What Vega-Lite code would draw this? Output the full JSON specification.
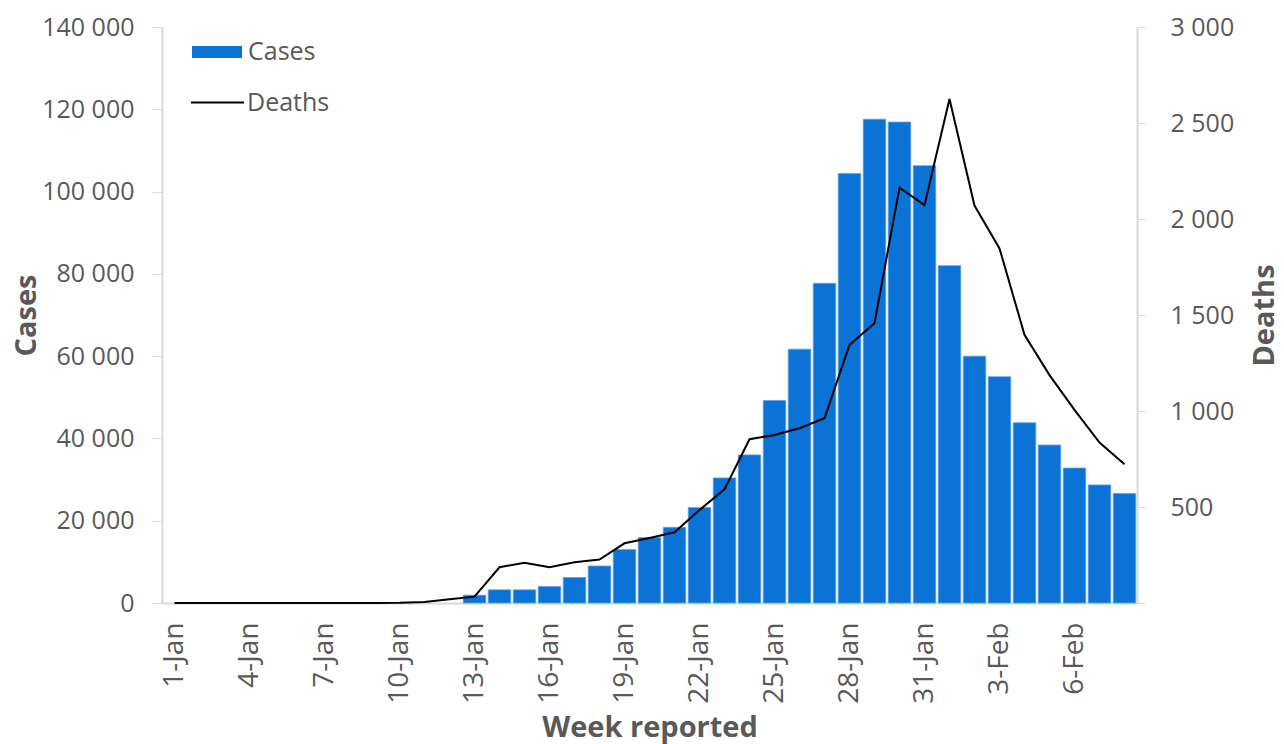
{
  "$schema": "https://vega.github.io/schema/vega-lite/v6.json",
  "autosize": {"type": "none"},
  "padding": {"left": 162, "top": 27, "right": 147, "bottom": 141},
  "width": 975,
  "height": 576,
  "background": "white",
  "config": {
    "view": {"stroke": null},
    "font": "Open Sans",
    "axis": {"grid": false, "labelColor": "#595959", "titleColor": "#595959", "domainColor": "#d9d9d9", "tickColor": "#d9d9d9", "domainWidth": 2, "labelFont": "Open Sans", "titleFont": "Open Sans"},
    "legend": {"labelFont": "Open Sans"}
  },
  "data": {
    "values": [
      {"day": "1-Jan", "cases": null, "deaths": 0},
      {"day": "2-Jan", "cases": null, "deaths": 0},
      {"day": "3-Jan", "cases": null, "deaths": 0},
      {"day": "4-Jan", "cases": null, "deaths": 0},
      {"day": "5-Jan", "cases": null, "deaths": 0},
      {"day": "6-Jan", "cases": null, "deaths": 0},
      {"day": "7-Jan", "cases": null, "deaths": 0},
      {"day": "8-Jan", "cases": null, "deaths": 0},
      {"day": "9-Jan", "cases": null, "deaths": 0},
      {"day": "10-Jan", "cases": null, "deaths": 1},
      {"day": "11-Jan", "cases": null, "deaths": 5},
      {"day": "12-Jan", "cases": null, "deaths": 19},
      {"day": "13-Jan", "cases": 1900, "deaths": 33},
      {"day": "14-Jan", "cases": 3200, "deaths": 186},
      {"day": "15-Jan", "cases": 3200, "deaths": 210},
      {"day": "16-Jan", "cases": 4000, "deaths": 186},
      {"day": "17-Jan", "cases": 6200, "deaths": 212},
      {"day": "18-Jan", "cases": 9000, "deaths": 226},
      {"day": "19-Jan", "cases": 13000, "deaths": 311},
      {"day": "20-Jan", "cases": 15900, "deaths": 339},
      {"day": "21-Jan", "cases": 18400, "deaths": 368},
      {"day": "22-Jan", "cases": 23200, "deaths": 484},
      {"day": "23-Jan", "cases": 30400, "deaths": 592},
      {"day": "24-Jan", "cases": 36000, "deaths": 853},
      {"day": "25-Jan", "cases": 49200, "deaths": 875},
      {"day": "26-Jan", "cases": 61700, "deaths": 910},
      {"day": "27-Jan", "cases": 77700, "deaths": 962},
      {"day": "28-Jan", "cases": 104400, "deaths": 1344},
      {"day": "29-Jan", "cases": 117600, "deaths": 1457},
      {"day": "30-Jan", "cases": 116900, "deaths": 2163},
      {"day": "31-Jan", "cases": 106300, "deaths": 2073},
      {"day": "1-Feb", "cases": 82000, "deaths": 2625},
      {"day": "2-Feb", "cases": 60000, "deaths": 2070},
      {"day": "3-Feb", "cases": 55000, "deaths": 1847},
      {"day": "4-Feb", "cases": 43800, "deaths": 1397},
      {"day": "5-Feb", "cases": 38400, "deaths": 1187},
      {"day": "6-Feb", "cases": 32800, "deaths": 1006},
      {"day": "7-Feb", "cases": 28700, "deaths": 836},
      {"day": "8-Feb", "cases": 26600, "deaths": 723}
    ]
  },
  "encoding": {
    "x": {
      "field": "day", "type": "nominal",
      "sort": ["1-Jan","2-Jan","3-Jan","4-Jan","5-Jan","6-Jan","7-Jan","8-Jan","9-Jan","10-Jan","11-Jan","12-Jan","13-Jan","14-Jan","15-Jan","16-Jan","17-Jan","18-Jan","19-Jan","20-Jan","21-Jan","22-Jan","23-Jan","24-Jan","25-Jan","26-Jan","27-Jan","28-Jan","29-Jan","30-Jan","31-Jan","1-Feb","2-Feb","3-Feb","4-Feb","5-Feb","6-Feb","7-Feb","8-Feb"],
      "scale": {"paddingInner": 0.1, "paddingOuter": 0.05,
        "domain": ["1-Jan","2-Jan","3-Jan","4-Jan","5-Jan","6-Jan","7-Jan","8-Jan","9-Jan","10-Jan","11-Jan","12-Jan","13-Jan","14-Jan","15-Jan","16-Jan","17-Jan","18-Jan","19-Jan","20-Jan","21-Jan","22-Jan","23-Jan","24-Jan","25-Jan","26-Jan","27-Jan","28-Jan","29-Jan","30-Jan","31-Jan","1-Feb","2-Feb","3-Feb","4-Feb","5-Feb","6-Feb","7-Feb","8-Feb"]},
      "axis": {
        "title": "Week reported", "titleFontSize": 29, "titleFontWeight": "bold", "titlePadding": 10,
        "values": ["1-Jan","4-Jan","7-Jan","10-Jan","13-Jan","16-Jan","19-Jan","22-Jan","25-Jan","28-Jan","31-Jan","3-Feb","6-Feb"],
        "labelAngle": -90, "labelAlign": "right", "labelBaseline": "middle", "labelFontSize": 28, "labelPadding": 19,
        "ticks": false
      }
    }
  },
  "layer": [
    {
      "mark": {"type": "bar", "stroke": "#5ea2e3", "strokeWidth": 0.8},
      "encoding": {
        "y": {
          "field": "cases", "type": "quantitative",
          "scale": {"domain": [0, 140000], "nice": false},
          "axis": {
            "orient": "left", "title": "Cases", "titleFontSize": 29, "titleFontWeight": "bold", "titlePadding": 0,
            "values": [0, 20000, 40000, 60000, 80000, 100000, 120000, 140000],
            "labelExpr": "replace(format(datum.value, ','), ',', ' ')",
            "labelFontSize": 25, "tickSize": 10, "labelPadding": 18
          }
        },
        "color": {
          "datum": "Cases",
          "scale": {"range": ["#0b72d6"]},
          "legend": {
            "title": null, "orient": "none", "legendX": 30, "legendY": 0, "padding": 0,
            "symbolType": "M-1,-0.24H1V0.24H-1Z", "symbolSize": 2500, "symbolStrokeWidth": 0,
            "labelFontSize": 25, "labelColor": "#595959", "labelOffset": 6
          }
        }
      }
    },
    {
      "mark": {"type": "line", "strokeWidth": 2},
      "encoding": {
        "y": {
          "field": "deaths", "type": "quantitative",
          "scale": {"domain": [0, 3000], "nice": false},
          "axis": {
            "orient": "right", "title": "Deaths", "titleFontSize": 29, "titleFontWeight": "bold", "titleAngle": -90, "titlePadding": 46,
            "values": [0, 500, 1000, 1500, 2000, 2500, 3000],
            "labelExpr": "datum.value == 0 ? '' : replace(format(datum.value, ','), ',', ' ')",
            "labelFontSize": 25, "tickSize": 8, "labelPadding": 25
          }
        },
        "stroke": {
          "datum": "Deaths",
          "scale": {"range": ["black"]},
          "legend": {
            "title": null, "orient": "none", "legendX": 28, "legendY": 48, "padding": 0,
            "symbolType": "stroke", "symbolSize": 2809, "symbolStrokeWidth": 2,
            "labelFontSize": 25, "labelColor": "#595959", "labelOffset": 2
          }
        }
      }
    }
  ],
  "resolve": {"scale": {"y": "independent"}}
}
